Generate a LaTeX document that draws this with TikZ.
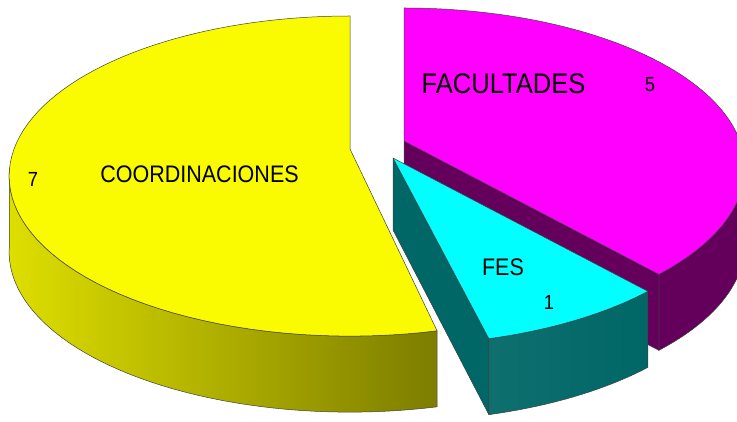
\documentclass[tikz,border=0pt]{standalone}
\usepackage{fontspec}
\setmainfont[FakeStretch=0.9]{Liberation Sans}
\definecolor{amarillo}{RGB}{250,250,0}
\definecolor{fucsia}{RGB}{255,0,255}
\definecolor{celeste}{RGB}{0,255,255}
\definecolor{morado}{RGB}{100,0,92}
\definecolor{verdeazul}{RGB}{0,102,102}
\definecolor{olivoclaro}{RGB}{222,222,0}
\definecolor{olivo}{RGB}{125,125,0}
\begin{document}
\begin{tikzpicture}[x=1bp, y=-1bp, line join=round,
            cara/.style ={draw=black!75, line width=0.5bp},
            etiqueta/.style ={inner sep=0pt, text=black, font=\fontsize{24}{25}\selectfont},
            valor/.style ={inner sep=0pt, text=black, font=\fontsize{20.5}{21}\selectfont},
            declare function={pw(\t)=1+0.169*sin(\t); px(\t)=336*cos(\t)/pw(\t);
              py(\t)=-155.5*sin(\t)/pw(\t); ph(\t)=76;}]

        \useasboundingbox (0,0) rectangle (737,421);

        %FACULTADES (5)
        \begin{scope}[shift={(404,141)}]
        \path[cara, fill=morado] plot[domain=311.5:360, samples=30] ({px(\x)},{py(\x)})
            -- plot[domain=360:311.5, samples=30] ({px(\x)},{py(\x)+ph(\x)}) -- cycle;
        \path[cara, fill=morado] (0,0) -- (0,76) -- ({px(311.5)},{py(311.5)+ph(311.5)})
            -- ({px(311.5)},{py(311.5)}) -- cycle;
        \path[cara, fill=fucsia] (0,0) -- plot[domain=-48.5:90, samples=60] ({px(\x)},{py(\x)}) -- cycle;
        \end{scope}

        %FES (1)
        \begin{scope}[shift={(393,158)}]
        \path[cara, fill=verdeazul] (0,0) -- (0,72) -- ({px(283.8)},{py(283.8)+ph(283.8)})
            -- ({px(283.8)},{py(283.8)}) -- cycle;
        \path[cara, left color=verdeazul!94!white, right color=verdeazul] plot[domain=283.8:311.5, samples=20] ({px(\x)},{py(\x)})
            -- plot[domain=311.5:283.8, samples=20] ({px(\x)},{py(\x)+ph(\x)}) -- cycle;
        \path[cara, fill=celeste] (0,0) -- plot[domain=283.8:311.5, samples=20] ({px(\x)},{py(\x)}) -- cycle;
        \end{scope}

        %COORDINACIONES (7)
        \begin{scope}[shift={(350,149)}]
        \path[cara, left color=olivoclaro, right color=olivo] plot[domain=187:282.5, samples=50] ({px(\x)},{py(\x)})
            -- plot[domain=282.5:187, samples=50] ({px(\x)},{py(\x)+ph(\x)}) -- cycle;
        \path[cara, fill=amarillo] (0,0) -- plot[domain=90:282.5, samples=80] ({px(\x)},{py(\x)}) -- cycle;
        \end{scope}

        \node[etiqueta] (coord) at (199.5,174) {COORDINACIONES};
        \node[etiqueta, font=\fontsize{28.5}{29}\selectfont] (facul) at (503.5,83.5) {FACULTADES};
        \node[etiqueta] (fes) at (503,267) {FES};
        \node[valor] (n7) at (33,179) {7};
        \node[valor] (n5) at (650,84.5) {5};
        \node[valor] (n1) at (549,302) {1};
    \end{tikzpicture}
\end{document}
